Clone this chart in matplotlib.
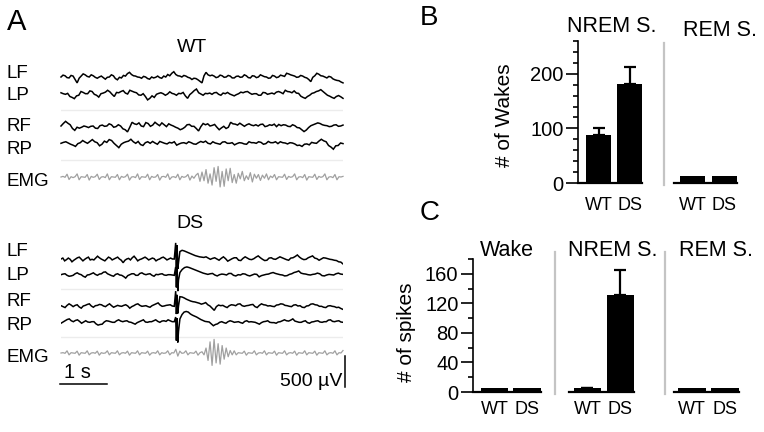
import numpy as np
import matplotlib
matplotlib.use('Agg')
import matplotlib.pyplot as plt
from matplotlib.lines import Line2D

plt.rcParams['font.family'] = ['Liberation Sans', 'DejaVu Sans']

# ---------------- data ----------------
trace_names = ['LF', 'LP', 'RF', 'RP']
groups = ['WT', 'DS']

# WT EEG traces (µV), 6 s, uniform sampling
wt_lf = [0, 30, 20, -10, -15, 25, 15, -40, -95, -20, 15, 50, 35, 10, 0, 35, 20, -5, -20, 0,
         15, -10, -35, -5, 0, 35, 20, -25, -45, -5, -15, 25, 15, 55, 75, 40, 20, 15, 0, -5,
         -20, 10, 0, -25, -35, 0, -15, -5, 15, -10, -20, 15, 0, 40, 20, 60, 85, 40, 20, 15,
         0, 25, 15, -5, -15, -40, -20, -25, -45, -70, -95, 20, 75, 35, 20, 30, 15, -10, 0, 30,
         20, -5, 0, 25, 15, -15, -15, 10, 15, -5, 0, 35, 20, -10, -15, 20, 15, -10, 0, 35,
         20, 5, 0, -20, -15, 25, 15, -10, 0, 30, 20, 10, 60, 50, 35, 25, 15, -5, 0, 25,
         15, -5, -15, -40, -75, -5, 20, 60, 45, 20, 15, 0, -15, 10, 0, -30, -45, -55, -60, -80, -95]
wt_lp = [20, 5, -5, 10, -40, -55, -75, -30, -20, 40, 25, 5, 5, 50, 40, -5, -20, -50, 5, 15,
         30, 60, 35, -5, -40, 25, 20, 40, 55, 15, 0, 60, 45, 30, 20, -15, -20, 5, -40, -95,
         -70, -30, -55, -5, 10, 20, 5, -20, 0, 35, 10, 0, -20, 10, 5, 25, -30, -70, -10, 20,
         55, 80, 20, 0, -20, 10, 5, 15, -5, 20, 25, -5, -20, 15, 5, 25, 0, -15, -30, -10,
         5, 30, 20, 35, 40, 15, -5, 5, 5, -20, -20, 25, 20, -5, 5, 15, 0, 30, 40, 25,
         5, 60, 40, 35, 20, 50, 15, 10, -35, -55, -70, -40, -20, 10, 20, 40, 50, 70, 40, 10,
         -20, -35, -55, -70, -40, -25, -45, -70]
wt_rf = [0, 40, 75, 45, 20, -40, -70, -20, -35, -20, 0, -10, -25, -5, 0, -35, -40, 5, 15, -5,
         0, 35, 20, -20, -10, 20, 0, -45, -60, -95, -20, 60, 35, 25, 50, 0, -10, 55, 40, -5,
         15, 60, 30, 5, 50, 20, -10, 35, 15, 0, -20, -35, -60, -45, -20, 20, 25, -5, -5, -40,
         -80, -10, 40, 20, 35, 0, 10, 25, -20, -60, -30, -5, -40, -20, 60, 35, 30, 15, 45, 20,
         -5, 20, 35, 15, 5, 20, 0, 25, 30, -10, 0, 20, 10, 30, -10, 25, 5, 20, 15, -5,
         -10, 20, 5, -25, -30, -60, -90, -65, -25, 5, 20, 35, 50, 40, 20, 10, 5, -10, -5, 15,
         20, -5, 0, 15]
wt_rp = [-5, 10, 20, 0, -20, -35, -55, -10, 5, 40, 15, -5, 25, 55, 20, 5, -45, -20, 30, 10,
         55, 40, -5, -40, -75, -20, 5, 20, 30, 60, 20, -5, 25, -25, -40, 5, 20, -5, 25, 0,
         -20, 25, 10, -5, -15, 10, 0, 20, -35, -15, 0, 5, -10, 20, 5, -15, -20, 5, 25, 10,
         30, -5, -15, 20, 0, -10, -20, 15, 20, -5, -5, 5, -30, -10, 5, 0, -15, -20, 20, 5,
         5, -5, 20, 10, -20, -10, 25, 5, 5, 20, -10, 20, 5, 0, -15, 5, 0, -15, -40, -35,
         -55, -20, -15, -30, 10, 0, -5, 30, 60, 35, 20, -40, -65, -100, -45, -40, 0, -10]
wt_emg = [0, 10, -5, 45, -40, 5, -10, 5, 50, -45, 5, 0, -5, 40, -50, 10, -5, 5, 45, -40,
          0, 5, -10, 50, -45, 5, 0, -5, 40, -45, 10, -5, 5, 45, -50, 0, 5, -10, 50, -40,
          5, 0, -5, 45, -45, 10, -5, 0, 40, -50, 5, 10, -5, 50, -40, 0, 5, -10, 45, -45,
          10, -5, 5, 40, -50, 15, -20, 30, 60, -70, 80, -60, 120, -100, 50, -130, 150, -70, 170, -160,
          90, -150, 130, -60, 140, -90, 40, -100, 60, -30, 90, -60, 20, -40, 70, -80, 45, -20, 40, -55,
          30, -20, 50, -45, 15, -10, 40, -45, 5, 0, -5, 45, -40, 10, -5, 5, 50, -45, 0, 5,
          -10, 40, -50, 5, 0, -5, 45, -40, 10, -5, 5, 50, -45, 0, 5, -10, 40, -45, 5, 0, 10]

# DS EEG traces (µV): before spike, spike-wave complex, after spike
ds_spike_time = [2.440, 2.455, 2.470, 2.485, 2.500]
ds_lf_pre = [0, 15, -30, -10, 15, -5, -45, -20, 0, 20, 30, 0, -30, -5, 15, 30, -15, -5, -15, 15,
             45, 20, 0, -15, -30, 0, 30, 15, -15, 0, 15, 30, 0, -20, -60, -20, 0, 10, -15, 20,
             45, 10, -30, -10, 0, 15, 30, 10, -15, 0, 15, 5, -30, -10, 0, 20, 30, 10, -15, 0, 15, 0, 0]
ds_lf_spk = [260, -180, 220, -160, -60]
ds_lf_post = [120, 140, 130, 115, 100, 85, 70, 55, 45, 35, 30, 25, 35, 15, -5, 10, 20, 0, -20, 10,
              35, 5, -35, -15, 5, 20, 20, -20, -25, 10, 35, 15, -5, -10, 5, 30, 50, 20, -5, -25,
              -20, 15, 20, 0, -5, 15, 35, 20, 5, -10, -20, 15, 20, 40, 65, 30, 5, -10, -5, 20,
              35, 50, 15, 5, -20, 0, 20, 15, 5, -5, -10, -20, -25, -45, -50, -80]
ds_lp_pre = [5, 15, 20, -5, -20, -15, -5, 20, 35, 15, 5, -20, -35, 0, 5, 20, 35, 10, -5, 15,
             20, 45, 50, 20, 5, -10, -20, 10, 20, 0, -5, -25, -50, -10, 5, 20, 20, -5, -5, 25,
             35, 15, 5, 15, 20, -5, -20, 10, 5, 15, 20, 0, -5, 5, 5, 0, -5]
ds_lp_spk = [130, -200, 100, -260, -80]
ds_lp_post = [40, 90, 120, 130, 120, 105, 90, 75, 60, 45, 30, 20, 10, 20, 25, 0, -15, 5, 15, 10,
              0, 25, 25, -5, -15, 5, 0, 20, 15, -5, -15, 0, 15, 10, -30, -10, 0, 10, 15, 30,
              40, 25, 15, 5, 0, -15, -10, 10, 20, 40, 50, 65, 30, 20, 15, 5, 0, 10, 15, 30,
              20, -10, -15, 0, 10, 5, 0, 20, 30, 15, 10]
ds_rf_pre = [5, -10, -25, 10, 35, 15, -10, 10, 20, -15, -35, 0, 10, 25, 35, 0, -20, 5, 10, 25,
             20, 0, -10, 15, 35, 5, -20, -5, 10, 0, -5, 10, 20, 0, -35, -10, 5, 25, 35, 10,
             -5, 0, 5, -10, -20, 5, 20, 35, 50, 15, -5, 0, 10, 15, 20, 0, -5]
ds_rf_spk = [240, -130, 180, -120, 0]
ds_rf_post = [150, 145, 130, 110, 95, 80, 70, 65, 55, 45, 30, 40, 55, 20, 0, -35, -70, -10, 15, 5,
              10, -10, -25, 5, 20, 15, 5, 30, 35, 5, -5, 5, 10, 20, 25, -10, -25, 10, 35, 20,
              15, 0, 5, -5, -10, 15, 20, 35, 30, 10, 5, -5, -10, 15, 20, 0, 5, -20, -25, 0,
              5, 30, 35, 20, 15, -5, -5, -20, -25, 0, 5, -5, -10, -25, -20, -40, -55]
ds_rp_pre = [-20, 0, 20, 40, 50, 20, 5, 25, 35, 10, -20, 0, 20, 0, -5, 5, 5, -30, -50, -40,
             -35, 0, 20, 15, 5, -5, -5, 20, 35, 15, 5, 15, 20, 0, -5, -20, -35, -10, 5, 20,
             35, 0, -5, 5, 5, 20, 35, 10, -5, 15, 20, 10, 35, 20, 5, 5]
ds_rp_spk = [80, -300, 60, -330, -150]
ds_rp_post = [50, 120, 160, 170, 160, 130, 110, 95, 80, 60, 40, 25, 10, 5, 0, -30, -60, -40, -30, -5,
              5, -10, -20, 5, 20, 10, -5, 0, 5, -10, -20, 10, 20, 0, 5, 0, -5, -20, -35, -10,
              5, 10, 20, -5, -10, -10, -20, 0, 5, 20, 35, 20, 15, 30, 50, 15, 5, -5, -5, 10,
              20, -10, -20, 0, 5, 15, 20, 0, -5, 5, 5, 30, 35, 10, 5, 15, 20, 0, -5]
ds_emg = [0, 5, -5, 35, -30, 5, 0, -5, 30, -35, 5, 0, -5, 35, -30, 0, 5, -5, 30, -35,
          5, -5, 0, 35, -30, 5, 0, -5, 35, -30, 0, 5, -5, 30, -35, 5, 0, -5, 35, -30,
          5, 0, -5, 30, -35, 0, 5, -5, 35, -30, 5, -5, 0, 35, -30, 5, 0, 60, -50, 30,
          -5, 0, 35, -30, 5, 0, -5, 30, -35, 5, 20, -30, 80, -120, 180, -200, 220, -160, 150, -180,
          120, -100, 80, -60, 40, -30, 35, -30, 5, 0, -5, 30, -35, 5, 0, -5, 35, -30, 0, 5,
          -5, 35, -30, 5, 0, -5, 30, -35, 5, 0, -5, 35, -30, 0, 5, -5, 30, -35, 5, 0,
          -5, 35, -30, 5, 0, -5, 30, -35, 5, 0, -5, 35, -30, 0, 5, -5, 35, -30, 5, 0, 40]

# Bar data
bar_labels = ['WT', 'DS']
wakes_nrem = [88, 182]
wakes_nrem_err = [13, 30]
wakes_rem = [13, 13]
spikes_wake = [5, 5]
spikes_nrem = [5, 131]
spikes_nrem_err = [0, 34]
spikes_rem = [5, 5]

# ---------------- figure ----------------
W, H = 764, 432
fig = plt.figure(figsize=(W / 100, H / 100), dpi=100)


def add_ax(x0, y0, x1, y1):
    return fig.add_axes([x0 / W, 1 - y1 / H, (x1 - x0) / W, (y1 - y0) / H])


def ftext(x, y, s, **kw):
    fig.text(x / W, 1 - y / H, s, **kw)


# ---- Panel A ----
UV_PER_PX = 500 / 31.0
TX0, TX1 = 61, 343
TY0, TY1 = 40, 400
axA = add_ax(TX0, TY0, TX1, TY1)
axA.set_xlim(0, 6)
axA.set_ylim(-(TY1 - TY0) * UV_PER_PX, 0)
axA.axis('off')


def off(py):
    return -(py - TY0) * UV_PER_PX


def plot_uniform(vals, py, **kw):
    v = np.asarray(vals, float)
    t = np.linspace(0, 6, len(v))
    axA.plot(t, v + off(py), clip_on=False, **kw)


eeg_kw = dict(color='black', lw=1.1, solid_joinstyle='miter')
emg_kw = dict(color='#a0a0a0', lw=0.9)

# faint separators
for py in [110, 160, 289, 337]:
    axA.plot([0, 6], [off(py)] * 2, color='#ececec', lw=1.0)

wt_base = [77, 94, 126, 143]
for vals, py in zip([wt_lf, wt_lp, wt_rf, wt_rp], wt_base):
    plot_uniform(vals, py, **eeg_kw)
plot_uniform(wt_emg, 177, **emg_kw)

ds_base = [259, 275, 306, 322]
for (pre, spk, post), py in zip([(ds_lf_pre, ds_lf_spk, ds_lf_post),
                                 (ds_lp_pre, ds_lp_spk, ds_lp_post),
                                 (ds_rf_pre, ds_rf_spk, ds_rf_post),
                                 (ds_rp_pre, ds_rp_spk, ds_rp_post)], ds_base):
    t = np.concatenate([np.linspace(0, 2.41, len(pre)), ds_spike_time,
                        np.linspace(2.53, 6, len(post))])
    v = np.concatenate([pre, spk, post]).astype(float)
    axA.plot(t, v + off(py), **eeg_kw)
plot_uniform(ds_emg, 353, **emg_kw)

# scale bars
axA.plot([-0.03, 0.97], [off(384)] * 2, color='black', lw=1.1, clip_on=False)
axA.plot([6.04, 6.04], [off(387), off(387) + 500], color='black', lw=1.1, clip_on=False)
ftext(77, 373, '1 s', fontsize=14.5, ha='center', va='center')
ftext(342, 381, '500 µV', fontsize=14, ha='right', va='center')

ftext(7, 22, 'A', fontsize=21, ha='left', va='center')
ftext(192, 48, 'WT', fontsize=14, ha='center', va='center')
ftext(190, 224, 'DS', fontsize=14, ha='center', va='center')
for name, py in zip(trace_names + ['EMG'], [73, 95, 127, 150, 182]):
    ftext(7, py, name, fontsize=13.5, ha='left', va='center')
for name, py in zip(trace_names + ['EMG'], [252, 275, 301, 325, 358]):
    ftext(7, py, name, fontsize=13.5, ha='left', va='center')


# ---- Panels B & C ----
def style_bar_ax(ax, left_axis, ylim, major, minor, xpad):
    ax.set_ylim(*ylim)
    for s in ['top', 'right']:
        ax.spines[s].set_visible(False)
    ax.spines['bottom'].set_linewidth(1.6)
    ax.set_xticks([0, 1])
    ax.set_xticklabels(bar_labels, fontsize=13)
    ax.tick_params(axis='x', length=0, pad=xpad)
    if left_axis:
        ax.spines['left'].set_linewidth(1.2)
        ax.set_yticks(major)
        ax.set_yticks(minor, minor=True)
        ax.tick_params(axis='y', which='major', length=9, width=1.2, labelsize=14.5, pad=1.5)
        ax.tick_params(axis='y', which='minor', length=3.5, width=1.2)
    else:
        ax.spines['left'].set_visible(False)
        ax.set_yticks([])
    ax.patch.set_alpha(0)


def bars(ax, vals, err, width):
    ax.bar([0, 1], vals, width=width, color='black')
    if err is not None:
        ax.errorbar([0, 1], vals, yerr=[[0, 0], err], fmt='none', ecolor='black',
                    elinewidth=1.6, capsize=4.5, capthick=1.6)


# B
bmaj, bmin = [0, 100, 200], [20, 40, 60, 80, 120, 140, 160, 180, 220, 240, 260]
axB1 = add_ax(578, 41, 642, 183)
bars(axB1, wakes_nrem, wakes_nrem_err, 0.8)
axB1.set_xlim(-0.66, 1.40)
style_bar_ax(axB1, True, (0, 260), bmaj, bmin, 10)

axB2 = add_ax(674, 41, 737, 183)
bars(axB2, wakes_rem, None, 0.8)
axB2.set_xlim(-0.59, 1.40)
style_bar_ax(axB2, False, (0, 260), [], [], 10)

# C
cmaj, cmin = [0, 40, 80, 120, 160], [20, 60, 100, 140, 180]
axC1 = add_ax(473, 259, 541, 392)
bars(axC1, spikes_wake, None, 0.84)
axC1.set_xlim(-0.66, 1.43)
style_bar_ax(axC1, True, (0, 180), cmaj, cmin, 6.5)

axC2 = add_ax(569, 259, 634, 392)
bars(axC2, spikes_nrem, spikes_nrem_err, 0.82)
axC2.set_xlim(-0.56, 1.41)
style_bar_ax(axC2, False, (0, 180), [], [], 6.5)

axC3 = add_ax(674, 259, 739, 392)
bars(axC3, spikes_rem, None, 0.84)
axC3.set_xlim(-0.545, 1.42)
style_bar_ax(axC3, False, (0, 180), [], [], 6.5)

# axis titles
ftext(505, 115, '# of Wakes', fontsize=15, rotation=90, ha='center', va='center')
ftext(407, 332, '# of spikes', fontsize=15, rotation=90, ha='center', va='center')

# separators
sep_color = '#c4c4c4'
for x, y0, y1 in [(664, 43, 185), (555, 252, 394), (665, 252, 394)]:
    fig.add_artist(Line2D([x / W, x / W], [1 - y0 / H, 1 - y1 / H], color=sep_color, lw=1.6))

# titles
ftext(612, 26, 'NREM S.', fontsize=15.5, ha='center', va='center')
ftext(720, 30, 'REM S.', fontsize=15.5, ha='center', va='center')
ftext(507, 251, 'Wake', fontsize=15.5, ha='center', va='center')
ftext(613, 251, 'NREM S.', fontsize=15.5, ha='center', va='center')
ftext(716, 251, 'REM S.', fontsize=15.5, ha='center', va='center')

ftext(420, 18, 'B', fontsize=20, ha='left', va='center')
ftext(420, 213, 'C', fontsize=20, ha='left', va='center')

fig.savefig('out.png', dpi=100)
